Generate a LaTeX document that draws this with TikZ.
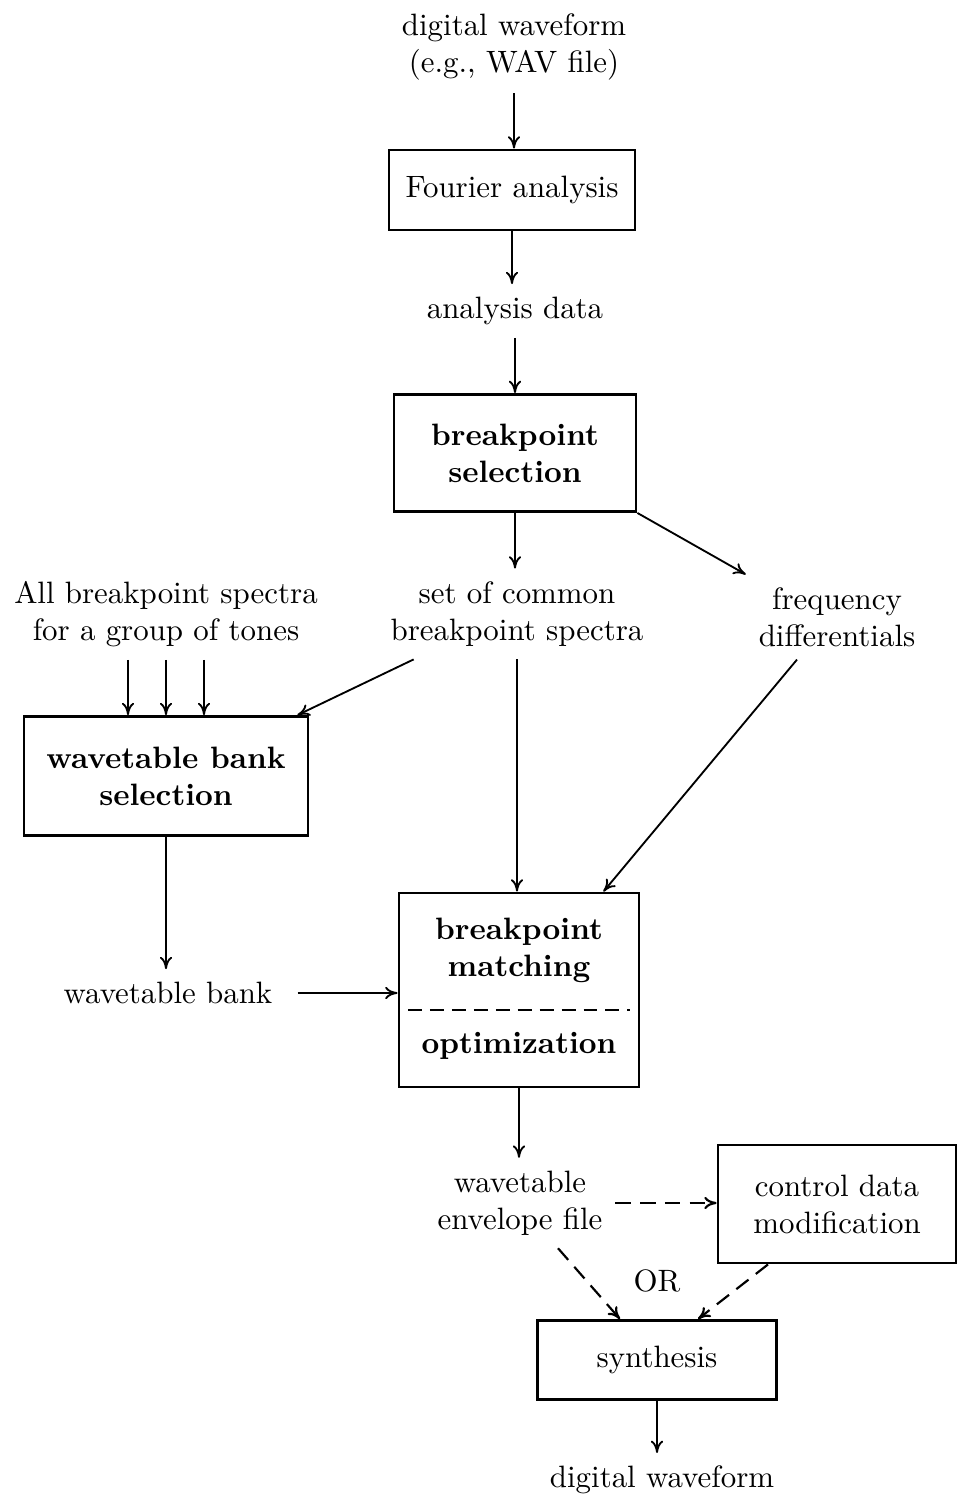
\documentclass[tikz,border=0pt]{standalone}
\usetikzlibrary{arrows.meta,calc}
\begin{document}
\begin{tikzpicture}[x=0.3236pt,y=-0.3236pt,
  txt/.style={align=center,inner sep=4pt},
  box/.style={draw,line width=0.9pt,align=center,inner sep=2pt},
  bbox/.style={box,font=\bfseries},
  arr/.style={line width=0.6pt,-{To[length=4pt,width=4pt]}},
  darr/.style={line width=0.7pt,dash pattern=on 5pt off 3pt,-{To[length=4pt,width=4pt]}}]
\useasboundingbox (0,0) rectangle (956,1499);
% nodes
\node[txt] (in) at (514,47) {digital waveform\\(e.g., WAV file)};
\node[box,minimum width=79.6pt,minimum height=25.9pt] (four) at (512,190) {Fourier analysis};
\node[txt] (ad) at (515,311) {analysis data};
\node[bbox,minimum width=78.3pt,minimum height=37.9pt] (bsel) at (515,453) {breakpoint\\selection};
\node[txt] (common) at (517,614) {set of common\\breakpoint spectra};
\node[txt] (freq) at (837,617) {frequency\\differentials};
\node[txt] (all) at (166,614) {All breakpoint spectra\\for a group of tones};
\node[bbox,minimum width=91.9pt,minimum height=38.5pt] (wbs) at (166,776) {wavetable bank\\selection};
\node[txt] (wb) at (168,993) {wavetable bank};
\node[box,minimum width=77.7pt,minimum height=62.8pt] (match) at (519,990) {};
\node[txt,font=\bfseries] (mt) at (519,950) {breakpoint\\matching};
\node[txt,font=\bfseries] (opt) at (519,1046) {optimization};
\coordinate (dl) at (408,1010);
\coordinate (dr) at (630,1010);
\draw[line width=0.4pt,dash pattern=on 4.5pt off 2.6pt] (dl) -- (dr);
\node[txt] (env) at (520,1203) {wavetable\\envelope file};
\node[box,minimum width=77pt,minimum height=38.2pt] (ctrl) at (837,1204) {control data\\modification};
\node[txt] (or) at (657,1281) {OR};
\node[box,minimum width=77.3pt,minimum height=25.6pt] (syn) at (657,1360) {synthesis};
\node[txt] (out) at (662,1480) {digital waveform};
% connectors
\draw[arr] (in.south) -- (in.south |- four.north);
\draw[arr] (four.south) -- (four.south |- ad.north);
\draw[arr] (ad.north |- ad.south) -- (ad.south |- bsel.north);
\draw[arr] (bsel.south) -- (bsel.south |- common.north);
\draw[arr] (bsel.south east) -- (freq.north west);
\draw[arr] ($(all.south)+(-38,0)$) -- ($(wbs.north)+(-38,0)$);
\draw[arr] (all.south) -- (wbs.north);
\draw[arr] ($(all.south)+(38,0)$) -- ($(wbs.north)+(38,0)$);
\draw[arr] ($(common.south west)+(36,0)$) -- ($(wbs.north east)+(-12,0)$);
\draw[arr] (common.south) -- (common.south |- match.north);
\draw[arr] ($(freq.south)+(-40,0)$) -- ($(match.north east)+(-37,0)$);
\draw[arr] (wbs.south) -- (wbs.south |- wb.north);
\draw[arr,shorten <=4pt] (wb.east) -- (match.west |- wb.east);
\draw[arr] (match.south) -- (match.south |- env.north);
\draw[darr] (env.east) -- (ctrl.west |- env.east);
\draw[darr] ($(env.south)+(38,0)$) -- ($(syn.north)+(-37,0)$);
\draw[darr] ($(ctrl.south)+(-69,0)$) -- ($(syn.north)+(41,0)$);
\draw[arr] (syn.south) -- (syn.south |- out.north);
\end{tikzpicture}
\end{document}
